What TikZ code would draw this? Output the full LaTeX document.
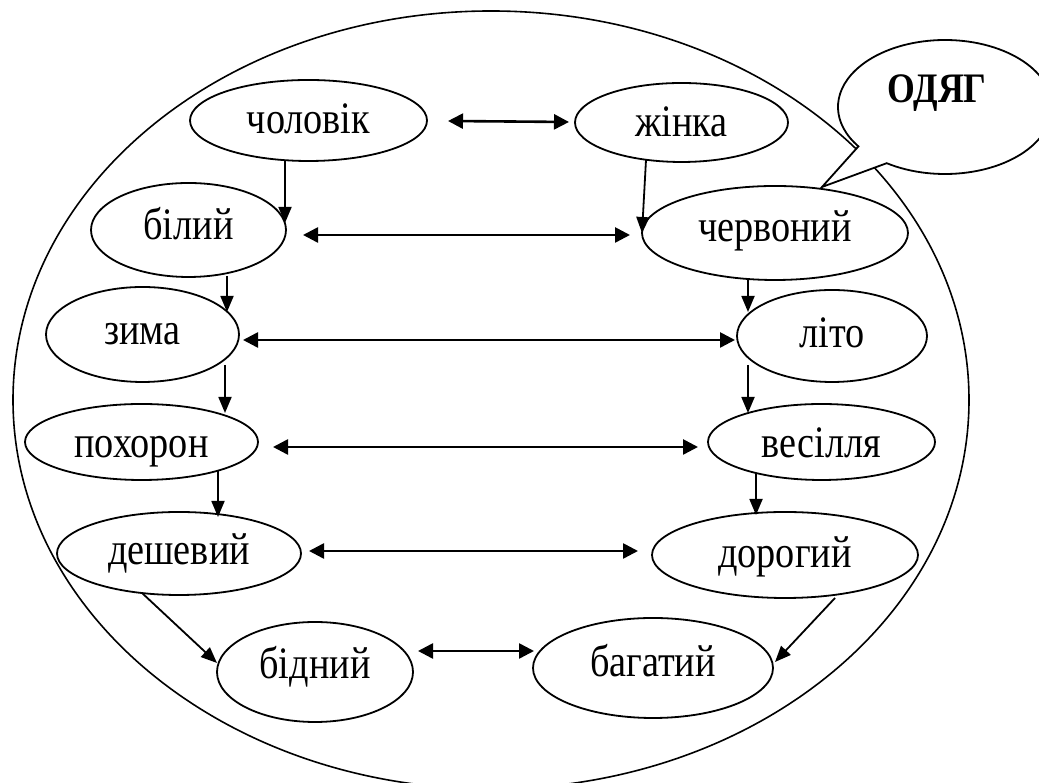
\documentclass[tikz,border=0pt]{standalone}
\usepackage{fontspec}
\setmainfont{Liberation Serif}
\newfontfamily\lab[FakeStretch=0.85]{Liberation Serif}
\usetikzlibrary{shapes.geometric,arrows.meta,calc}
\tikzset{
  oval/.style={ellipse, draw, line width=1.8pt, inner sep=0pt, text depth=0pt,
    font=\lab\fontsize{45}{50}\selectfont},
  link/.style={line width=1.8pt, -{Triangle[length=16pt,width=13pt]}},
  both/.style={line width=2.6pt, {Triangle[length=15pt,width=15pt]}-{Triangle[length=15pt,width=15pt]}},
}
\begin{document}
\begin{tikzpicture}[x=1pt,y=1pt]
\useasboundingbox (0,0) rectangle (1039,783);
\clip (0,0) rectangle (1039,783);
% big outline
\draw[line width=1.6pt] (491,383) ellipse [x radius=478, y radius=389];
% callout
\draw[line width=1.8pt, fill=white, line join=miter]
  (886.7,619.8) arc[start angle=237, end angle=576, x radius=107, y radius=67]
  -- (822,596) -- cycle;
\node[font=\lab\fontsize{42}{46}\selectfont\bfseries, text height=28pt, text depth=0pt] (odyag) at (937,694) {ОДЯГ};
% nodes
\node[oval, text height=27pt, minimum width=237pt, minimum height=81pt] (cholovik) at (308.5,662.5) {чоловік};
\node[oval, text height=29pt, minimum width=213pt, minimum height=79pt] (zhinka) at (681.5,660.5) {жінка};
\node[oval, text height=20pt, minimum width=195pt, minimum height=94pt] (bilyi) at (188.5,553) {білий};
\node[oval, text height=18pt, minimum width=266pt, minimum height=94pt] (chervonyi) at (775,550) {червоний};
\node[oval, text height=21pt, minimum width=193pt, minimum height=95pt] (zyma) at (142.5,448.5) {зима};
\node[oval, text height=24pt, minimum width=190pt, minimum height=92pt] (lito) at (832,447) {літо};
\node[oval, text height=32pt, minimum width=233pt, minimum height=76pt] (pokhoron) at (141.5,341) {похорон};
\node[oval, text height=32pt, minimum width=227pt, minimum height=76pt] (vesillia) at (821.5,341) {весілля};
\node[oval, text height=23pt, minimum width=244pt, minimum height=83pt] (deshevyi) at (179,229.5) {дешевий};
\node[oval, text height=26pt, minimum width=266pt, minimum height=86pt] (dorohyi) at (785,228) {дорогий};
\node[oval, text height=14pt, minimum width=196pt, minimum height=100pt] (bidnyi) at (315,111) {бідний};
\node[oval, text height=18pt, minimum width=240pt, minimum height=100pt] (bahatyi) at (653,115) {багатий};
% connectors
\draw[both] ($(cholovik)+(139.5,-0.5)$) -- ($(zhinka)+(-112.5,0.5)$);
\draw[link] ($(cholovik)+(-23.5,-40.5)$) -- ($(bilyi)+(96.5,7)$);
\draw[link] ($(zhinka)+(-35.5,-37.5)$) -- ($(chervonyi)+(-133,0)$);
\draw[both] ($(bilyi)+(114.5,-5)$) -- ($(chervonyi)+(-145,-2)$);
\draw[link] ($(bilyi)+(38.5,-46)$) -- ($(zyma)+(84.5,22.5)$);
\draw[link] ($(chervonyi)+(-27,-47)$) -- ($(lito)+(-84,24)$);
\draw[both] ($(zyma)+(100.5,-5.5)$) -- ($(lito)+(-97,-4)$);
\draw[link] ($(zyma)+(82.5,-30.5)$) -- ($(pokhoron)+(83.5,29)$);
\draw[link] ($(lito)+(-84,-29)$) -- ($(vesillia)+(-73.5,29)$);
\draw[both] ($(pokhoron)+(131.5,-5)$) -- ($(vesillia)+(-123.5,-5)$);
\draw[link] ($(pokhoron)+(76.5,-29)$) -- ($(deshevyi)+(39,36.5)$);
\draw[link] ($(vesillia)+(-65.5,-31)$) -- ($(dorohyi)+(-29,40)$);
\draw[both] ($(deshevyi)+(130,2.5)$) -- ($(dorohyi)+(-147,4)$);
\draw[link] ($(deshevyi)+(-37,-39.5)$) -- ($(bidnyi)+(-98,9)$);
\draw[link] ($(dorohyi)+(50,-43)$) -- ($(bahatyi)+(122,6)$);
\draw[both] ($(bidnyi)+(103,21)$) -- ($(bahatyi)+(-119,17)$);
\end{tikzpicture}
\end{document}
